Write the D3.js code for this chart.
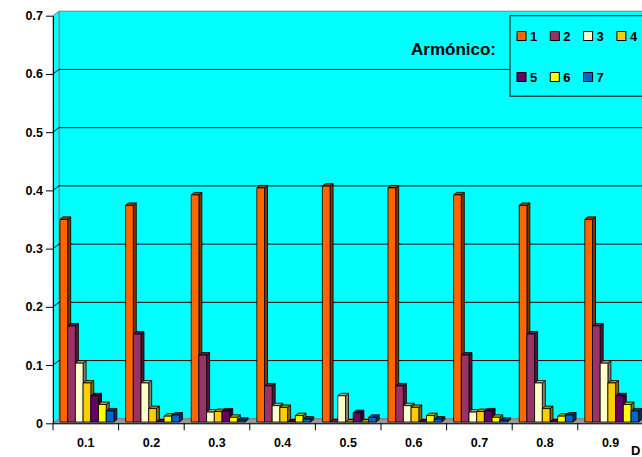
<!DOCTYPE html>
<html>
<head>
<meta charset="utf-8">
<script src="https://cdn.jsdelivr.net/npm/d3@7"></script>
<style>
  html, body { margin: 0; padding: 0; background: #fff; }
  svg { display: block; font-family: "Liberation Sans", Arial, sans-serif; font-weight: bold; }
</style>
</head>
<body>
<svg id="chart" width="642" height="457"></svg>
<script>
// Duty cycle categories and harmonic series
const categories = ["0.1", "0.2", "0.3", "0.4", "0.5", "0.6", "0.7", "0.8", "0.9"];
const harmonics = ["1", "2", "3", "4", "5", "6", "7"];

// Harmonic amplitudes per duty cycle
const h1 = [0.348, 0.372, 0.390, 0.402, 0.405, 0.402, 0.390, 0.372, 0.348];
const h2 = [0.165, 0.151, 0.115, 0.062, 0.000, 0.062, 0.115, 0.151, 0.165];
const h3 = [0.101, 0.067, 0.017, 0.028, 0.045, 0.028, 0.017, 0.067, 0.101];
const h4 = [0.067, 0.023, 0.018, 0.025, 0.000, 0.025, 0.018, 0.023, 0.067];
const h5 = [0.045, 0.000, 0.019, 0.000, 0.016, 0.000, 0.019, 0.000, 0.045];
const h6 = [0.030, 0.010, 0.008, 0.011, 0.000, 0.011, 0.008, 0.010, 0.030];
const h7 = [0.019, 0.012, 0.003, 0.005, 0.008, 0.005, 0.003, 0.012, 0.019];

const yTicks = [0, 0.1, 0.2, 0.3, 0.4, 0.5, 0.6, 0.7];
const legendTitle = "Armónico:";
const xTitle = "D";

const series = [h1, h2, h3, h4, h5, h6, h7];
const colors = ["#FF6600", "#993366", "#FFFFCC", "#FFCC00", "#660066", "#FFFF00", "#0066CC"];

const svg = d3.select("#chart");

// Layout
const X0 = 53;          // front-left corner of the plot
const bandW = 65.6;     // width of each category
const XR = X0 + bandW * categories.length;
const DX = 6, DY = 4.5; // depth of the walls
const BDX = 3, BDY = 2.5; // depth of each column
const FAR = 760;

const y = d3.scaleLinear().domain([0, 0.7]).range([423.3, 15.7]);
const Y0 = y(0);

const x0 = d3.scaleBand().domain(categories).range([X0, XR]).padding(0);
const x1 = d3.scaleBand().domain(harmonics).range([7, 7 + 7 * 7.7]).padding(0);

// Back wall
svg.append("rect")
  .attr("x", X0 + DX).attr("y", y(0.7) - DY)
  .attr("width", FAR).attr("height", (Y0 - DY) - (y(0.7) - DY))
  .attr("fill", "#00FFFF").attr("stroke", "#808080");

// Side wall
svg.append("polygon")
  .attr("points", [[X0, y(0.7)], [X0 + DX, y(0.7) - DY], [X0 + DX, Y0 - DY], [X0, Y0]].join(" "))
  .attr("fill", "#00FFFF").attr("stroke", "#808080");

// Floor
svg.append("polygon")
  .attr("points", [[X0, Y0], [X0 + DX, Y0 - DY], [FAR, Y0 - DY], [FAR, Y0]].join(" "))
  .attr("fill", "#999999").attr("stroke", "#808080");

// Gridlines on side and back walls
svg.append("g").selectAll("polyline")
  .data(yTicks.filter(t => t > 0 && t < 0.7))
  .join("polyline")
  .attr("points", d => [[X0, y(d)], [X0 + DX, y(d) - DY], [FAR, y(d) - DY]].join(" "))
  .attr("fill", "none").attr("stroke", "#000").attr("stroke-width", 1);

// Columns
const bars = svg.append("g");
categories.forEach((cat, ci) => {
  harmonics.forEach((h, si) => {
    const v = series[si][ci];
    const xf = x0(cat) + x1(h);
    const w = x1.bandwidth();
    const yb = Y0 - 1.3;
    const yt = y(v) - 1.3;
    const c = d3.color(colors[si]);
    const g = bars.append("g").attr("stroke", "#000").attr("stroke-width", 0.8).attr("stroke-linejoin", "round");
    g.append("polygon")
      .attr("points", [[xf + w, yb], [xf + w + BDX, yb - BDY], [xf + w + BDX, yt - BDY], [xf + w, yt]].join(" "))
      .attr("fill", c.darker(1.9));
    g.append("polygon")
      .attr("points", [[xf, yt], [xf + BDX, yt - BDY], [xf + w + BDX, yt - BDY], [xf + w, yt]].join(" "))
      .attr("fill", c.darker(1.1));
    g.append("rect")
      .attr("x", xf).attr("y", yt)
      .attr("width", w).attr("height", Math.max(0, yb - yt))
      .attr("fill", colors[si]);
  });
});

// Y axis
const yAxis = svg.append("g")
  .attr("transform", `translate(${X0},0)`)
  .call(d3.axisLeft(y).tickValues(yTicks).tickSize(7).tickSizeOuter(0).tickPadding(3)
    .tickFormat(d => String(+d.toFixed(1))));
yAxis.selectAll("text").attr("font-size", 12.5).attr("font-weight", "bold").attr("font-family", "Liberation Sans, Arial, sans-serif").attr("fill", "#000");
yAxis.select(".domain").attr("stroke", "#000");

// X axis
const xAxis = svg.append("g")
  .attr("transform", `translate(0,${Y0})`)
  .call(d3.axisBottom(x0).tickSize(0).tickSizeOuter(0).tickPadding(14.5));
xAxis.selectAll("text").attr("font-size", 12.5).attr("font-weight", "bold").attr("font-family", "Liberation Sans, Arial, sans-serif").attr("fill", "#000");
xAxis.select(".domain").attr("stroke", "#000");
xAxis.selectAll(".tick line").remove();
xAxis.append("g").selectAll("line")
  .data(categories.map(c => x0(c)).concat([XR]))
  .join("line")
  .attr("x1", d => d).attr("x2", d => d)
  .attr("y1", 0).attr("y2", 7)
  .attr("stroke", "#000");

svg.append("text")
  .attr("x", 631).attr("y", 455)
  .attr("font-size", 13)
  .text(xTitle);

// Legend
svg.append("text")
  .attr("x", 411).attr("y", 55)
  .attr("font-size", 17)
  .text(legendTitle);

const legend = svg.append("g").attr("transform", "translate(510,15.7)");
legend.append("rect")
  .attr("x", 0).attr("y", 0).attr("width", 200).attr("height", 80.5)
  .attr("fill", "#00FFFF").attr("stroke", "#000");
const items = legend.selectAll("g.item")
  .data(harmonics)
  .join("g")
  .attr("class", "item")
  .attr("transform", (d, i) => {
    const col = i < 4 ? i : i - 4;
    const row = i < 4 ? 0 : 1;
    return `translate(${7 + col * 33.3},${20.3 + row * 41})`;
  });
items.append("rect")
  .attr("x", 0).attr("y", -4.5).attr("width", 9).attr("height", 9)
  .attr("fill", (d, i) => colors[i]).attr("stroke", "#000");
items.append("text")
  .attr("x", 13).attr("y", 0).attr("dy", "0.36em")
  .attr("font-size", 13)
  .text(d => d);
</script>
</body>
</html>
